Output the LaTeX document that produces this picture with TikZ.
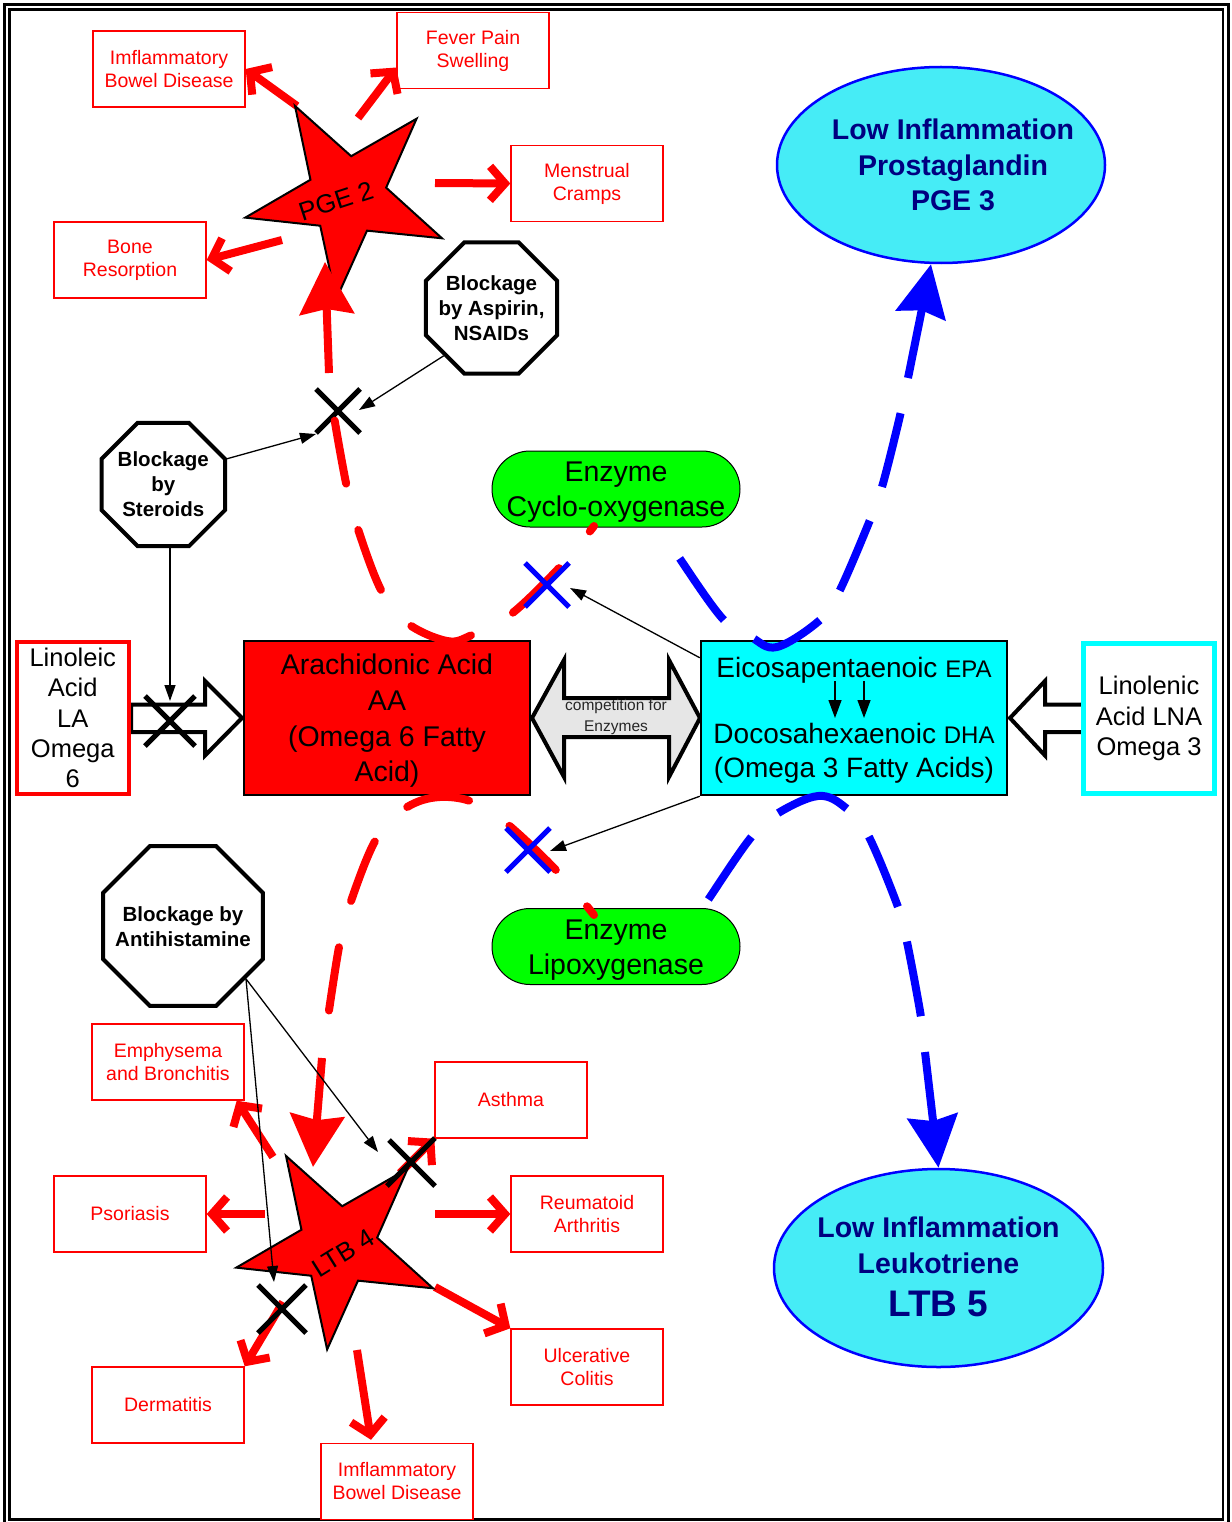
\documentclass[tikz,border=0pt]{standalone}
\usepackage{fontspec}
\setmainfont{Liberation Sans}
\usetikzlibrary{shapes.geometric,arrows.meta,calc}
\definecolor{lowcyan}{RGB}{70,236,246}
\definecolor{navytext}{RGB}{0,0,128}
\definecolor{compgray}{RGB}{230,230,230}
\definecolor{aqua}{RGB}{0,255,255}
\definecolor{limegreen}{RGB}{0,255,0}
\definecolor{purered}{RGB}{255,0,0}
\definecolor{pureblue}{RGB}{0,0,255}
\begin{document}
\begin{tikzpicture}[x=1pt,y=-1pt,
  redbox/.style={draw=purered, line width=1.4pt, fill=white, minimum width=152pt, minimum height=76pt, inner sep=0pt, text=purered, font=\fontsize{19.5}{23}\selectfont, align=center},
  octo/.style={regular polygon, regular polygon sides=8, draw=black, line width=4pt, fill=white, inner sep=0pt},
  octtext/.style={font=\bfseries\fontsize{20.5}{25}\selectfont, align=center},
  effect/.style={draw=purered, line width=8pt, -{Straight Barb[length=15pt,width=34pt]}},
  bigred/.style={draw=purered, line width=8pt, -{Stealth[length=52pt,width=54pt,inset=5pt]}},
  bigblue/.style={draw=pureblue, line width=8pt, -{Stealth[length=52pt,width=50pt,inset=5pt]}},
  reddash/.style={draw=purered, line width=8pt, line cap=round, dash pattern=on 64pt off 48pt, dash phase=64pt},
  bluedash/.style={draw=pureblue, line width=8pt, dash pattern=on 76pt off 36pt, dash phase=76pt},
  blackx/.style={draw=black, line width=5pt},
  bluex/.style={draw=pureblue, line width=5pt},
  thinarr/.style={draw=black, line width=1.3pt, -{Triangle[length=16pt,width=11pt]}},
  starshape/.style={star, star points=5, star point ratio=2.6, minimum size=208pt, inner sep=0pt, draw=black, line width=2pt, fill=purered, shape border rotate=30},
  startext/.style={font=\fontsize{26}{26}\selectfont},
  enzyme/.style={draw=black, line width=1pt, fill=limegreen, rounded corners=38pt, minimum width=248pt, minimum height=76pt, inner sep=0pt, align=center, font=\fontsize{28.5}{35}\selectfont},
  lowell/.style={ellipse, draw=pureblue, line width=2.5pt, fill=lowcyan, inner sep=0pt},
  lowtext/.style={text=navytext, font=\bfseries\fontsize{28.5}{35.7}\selectfont, align=center},
  blockarrow/.style={draw=black, line width=4pt, line join=miter},
  acidtext/.style={font=\fontsize{28.5}{35.7}\selectfont, align=center},
  smalltext/.style={font=\fontsize{25.5}{30.3}\selectfont, align=center},
]
\useasboundingbox (0,0) rectangle (1231,1522);
% frame
\draw[line width=3pt] (4.5,4.5) rectangle (1228,1526);
\draw[line width=2.5pt] (9.5,9.5) rectangle (1223,1519.5);

% block arrows
\draw[blockarrow, fill=white] (131,704.5) -- (205,704.5) -- (205,681) -- (242,718) -- (205,755.5) -- (205,732) -- (131,732) -- cycle;
\draw[blockarrow, fill=white] (1083,704.5) -- (1045,704.5) -- (1045,681) -- (1010,718) -- (1045,755.5) -- (1045,732) -- (1083,732) -- cycle;
\draw[blockarrow, fill=compgray] (532,718) -- (564,660) -- (564,698) -- (669,698) -- (669,660) -- (700,718) -- (669,777) -- (669,737) -- (564,737) -- (564,777) -- cycle;
\node[font=\fontsize{15.5}{21}\selectfont, align=center, text=black!85] (comp) at (616,717) {competition for\\Enzymes};

% acid boxes
\node[draw=purered, line width=4pt, fill=white, minimum width=112.5pt, minimum height=152pt, inner sep=0pt, smalltext] (la) at (72.75,718) {Linoleic\\Acid\\LA\\Omega\\6};
\node[draw=black, line width=2.5pt, fill=purered, minimum width=286pt, minimum height=154pt, inner sep=0pt] (aa) at (387,718) {};
\node[acidtext] (aat) at ($(aa)+(0,3)$) {Arachidonic Acid\\AA\\(Omega 6 Fatty\\Acid)};
\node[draw=black, line width=2.5pt, fill=aqua, minimum width=306pt, minimum height=154pt, inner sep=0pt] (epa) at (854,718) {};
\node[anchor=base, font=\fontsize{28}{28}\selectfont] (epa1) at (854,677) {Eicosapentaenoic {\fontsize{24}{24}\selectfont EPA}};
\node[anchor=base, font=\fontsize{28}{28}\selectfont] (epa2) at (854,743) {Docosahexaenoic {\fontsize{24}{24}\selectfont DHA}};
\node[anchor=base, font=\fontsize{28}{28}\selectfont] (epa3) at (854,777) {(Omega 3 Fatty Acids)};
\draw[line width=1.3pt, -{Triangle[length=18pt,width=13pt]}] (835,681) -- (835,718);
\draw[line width=1.3pt, -{Triangle[length=18pt,width=13pt]}] (864,681) -- (864,718);
\node[draw=aqua, line width=5pt, fill=white, minimum width=131.5pt, minimum height=150pt, inner sep=0pt, smalltext] (lna) at (1149,718.5) {Linolenic\\Acid LNA\\Omega 3};

% enzymes
\node[enzyme] (cox) at (616,489) {};
\node[enzyme] (coxt) at ($(cox)+(0,3)$) [draw=none, fill=none] {Enzyme\\Cyclo-oxygenase};
\node[enzyme] (lox) at (616,946.5) {};
\node[enzyme] (loxt) at ($(lox)+(0,4)$) [draw=none, fill=none] {Enzyme\\Lipoxygenase};

% low inflammation ellipses
\node[lowell, minimum width=328pt, minimum height=196pt] (pge3) at (941,165) {};
\node[lowtext] (pge3t) at ($(pge3)+(12,0)$) {Low Inflammation\\Prostaglandin\\PGE 3};
\node[lowell, minimum width=329pt, minimum height=198pt] (ltb5) at (938.5,1268) {};
\node[lowtext] (ltb5t) at ($(ltb5)+(0,-1)$) {Low Inflammation\\Leukotriene\\[7pt]{\fontsize{37}{40}\selectfont LTB 5}};

% red symptom boxes
\node[redbox] (ibd1) at (169,69) {Imflammatory\\Bowel Disease};
\node[redbox] (fever) at (473,50.5) {Fever Pain\\Swelling};
\node[redbox] (mens) at (587,183.5) {Menstrual\\Cramps};
\node[redbox] (bone) at (130,260) {Bone\\Resorption};
\node[redbox] (emph) at (168,1062) {Emphysema\\and Bronchitis};
\node[redbox] (asth) at (511,1100) {Asthma};
\node[redbox] (psor) at (130,1214) {Psoriasis};
\node[redbox] (reum) at (587,1214) {Reumatoid\\Arthritis};
\node[redbox] (ulc) at (587,1367) {Ulcerative\\Colitis};
\node[redbox] (derm) at (168,1405) {Dermatitis};
\node[redbox] (ibd2) at (397,1481.5) {Imflammatory\\Bowel Disease};

% blockage octagons
\node[octo, minimum size=142pt] (asp) at (491.5,308) {};
\node[octtext] (aspt) at (asp) {Blockage\\by Aspirin,\\NSAIDs};
\node[octo, minimum size=133.6pt] (ster) at (163.3,484.5) {};
\node[octtext] (stert) at (ster) {Blockage\\by\\Steroids};
\node[octo, minimum size=173pt] (anti) at (183,926) {};
\node[octtext] (antit) at ($(anti)+(0,1)$) {Blockage by\\Antihistamine};

% star centres
\coordinate (pgec) at (347,196);
\coordinate (ltbc) at (338,1246);

% effect arrows (under the stars)
\draw[effect] ($(pgec)+(-50,-90)$) -- (ibd1.east);
\draw[effect] ($(pgec)+(11,-78)$) -- ($(fever.west)+(0,17)$);
\draw[effect] ($(pgec)+(88,-13)$) -- (mens.west);
\draw[effect] ($(pgec)+(-65,44)$) -- (bone.east);
\draw[effect] ($(ltbc)+(-65,-89)$) -- ($(emph.south east)+(-8,0)$);
\draw[effect] ($(ltbc)+(-73,-32)$) -- (psor.east);
\draw[effect] ($(ltbc)+(-55,56)$) -- (derm.north east);
\draw[effect] ($(ltbc)+(19,104)$) -- ($(ibd2.north)+(-26,-3)$);
\draw[effect] ($(ltbc)+(97,41)$) -- (ulc.north west);
\draw[effect] ($(ltbc)+(97,-32)$) -- (reum.west);
\draw[effect] ($(ltbc)+(62,-73)$) -- (asth.south west);

% stars
\node[starshape] (pge2) at (pgec) {};
\node[startext, rotate=18] (pge2t) at (336,201) {PGE 2};
\node[starshape] (ltb4) at (ltbc) {};
\node[startext, rotate=32] (ltb4t) at (343,1253) {LTB 4};

% black crosses
\coordinate (xa) at (338,411);
\coordinate (xla) at (170,721);
\coordinate (xlt1) at (412,1163);
\coordinate (xlt2) at (282,1309);
\draw[blackx] ($(xa)+(-22,-22)$) -- ($(xa)+(22,22)$) ($(xa)+(22,-22)$) -- ($(xa)+(-22,22)$);
\draw[blackx] ($(xla)+(-25,-25)$) -- ($(xla)+(25,25)$) ($(xla)+(25,-25)$) -- ($(xla)+(-25,25)$);
\draw[blackx] ($(xlt1)+(-23,-23)$) -- ($(xlt1)+(23,23)$) ($(xlt1)+(23,-25)$) -- ($(xlt1)+(-25,23)$);
\draw[blackx] ($(xlt2)+(-24,-24)$) -- ($(xlt2)+(24,24)$) ($(xlt2)+(24,-24)$) -- ($(xlt2)+(-24,24)$);

% dashed pathways
\coordinate (ru) at (329,373);
\coordinate (rl) at (322,1058);
\coordinate (bu) at (908,378);
\coordinate (bl) at (925,1052);
\draw[reddash] plot[smooth, tension=0.6] coordinates {(ru) (333,410) (346,483) (356,523) (381,590) (407,623) (447,641) (472,635) (510,615) (560,567) (594,526)};
\draw[reddash] plot[smooth, tension=0.6] coordinates {(rl) (328,1017) (339,947) (348,910) (374,843) (400,812) (431,798) (467,800) (500,818) (554,868) (594,915)};
\draw[bluedash] plot[smooth, tension=0.6] coordinates {(bu) (899,420) (882,487) (870,520) (839,592) (820,620) (777,647) (751,637) (722,618) (676,553) (668,540)};
\draw[bluedash] plot[smooth, tension=0.6] coordinates {(bl) (921,1017) (907,942) (898,907) (868,835) (846,808) (818,796) (775,815) (749,840) (706,903) (701,911)};
\draw[bigred] (ru) -- ($(pgec)+(-22,66)$);
\draw[bigred] (rl) -- ($(ltbc)+(-25,-79)$);
\draw[bigblue] (bu) -- ($(pge3.south)+(-10,0)$);
\draw[bigblue] (bl) -- (ltb5.north);

% blue crosses
\coordinate (bxu) at (547,585);
\coordinate (bxl) at (528,850);
\draw[bluex] ($(bxu)+(-22,-22)$) -- ($(bxu)+(22,22)$) ($(bxu)+(22,-22)$) -- ($(bxu)+(-22,22)$);
\draw[bluex] ($(bxl)+(-22,-22)$) -- ($(bxl)+(22,22)$) ($(bxl)+(22,-22)$) -- ($(bxl)+(-22,22)$);

% thin blocking arrows
\draw[thinarr] (asp.225) -- ($(xa)+(21,-1)$);
\draw[thinarr] (ster.22.5) -- ($(xa)+(-22,23)$);
\draw[thinarr] (ster.south -| xla) -- ($(xla)+(0,-20)$);
\draw[thinarr] (anti.-40) -- ($(xlt1)+(-34,-11)$);
\draw[thinarr] (anti.-40) -- ($(xlt2)+(-8,-27)$);
\draw[thinarr] ($(epa.north west)+(0,18)$) -- ($(bxu)+(23,3)$);
\draw[thinarr] (epa.south west) -- ($(bxl)+(22,1)$);
\end{tikzpicture}
\end{document}
